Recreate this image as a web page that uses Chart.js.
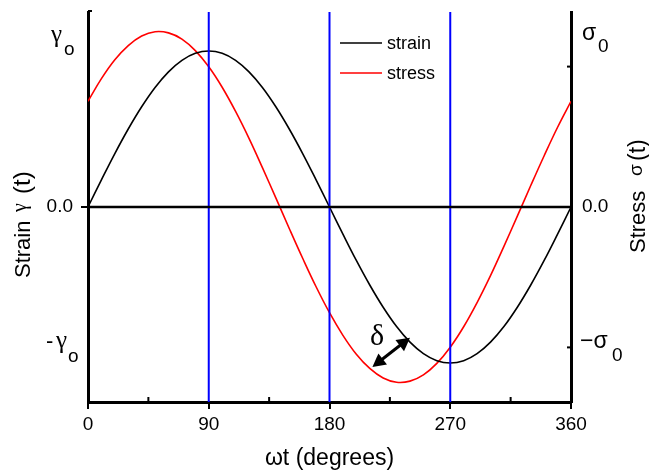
<!DOCTYPE html>
<html>
<head>
<meta charset="utf-8">
<script src="https://cdn.jsdelivr.net/npm/chart.js@4"></script>
<style>
  body { margin: 0; background: #fff; }
</style>
</head>
<body>
<canvas id="chart" width="649" height="473"></canvas>
<script>
// phase angle (degrees)
const angles = [0, 10, 20, 30, 40, 50, 60, 70, 80, 90, 100, 110, 120, 130, 140, 150, 160, 170, 180,
  190, 200, 210, 220, 230, 240, 250, 260, 270, 280, 290, 300, 310, 320, 330, 340, 350, 360];

const strain = [0, 0.139, 0.274, 0.400, 0.514, 0.613, 0.693, 0.752, 0.788, 0.800,
  0.788, 0.752, 0.693, 0.613, 0.514, 0.400, 0.274, 0.139, 0,
  -0.139, -0.274, -0.400, -0.514, -0.613, -0.693, -0.752, -0.788, -0.800,
  -0.788, -0.752, -0.693, -0.613, -0.514, -0.400, -0.274, -0.139, 0];

const stress = [0.542, 0.658, 0.755, 0.828, 0.877, 0.899, 0.893, 0.861, 0.802, 0.719,
  0.614, 0.490, 0.352, 0.202, 0.047, -0.110, -0.263, -0.409, -0.542,
  -0.658, -0.755, -0.828, -0.877, -0.899, -0.893, -0.861, -0.802, -0.719,
  -0.614, -0.490, -0.352, -0.202, -0.047, 0.110, 0.263, 0.409, 0.542];

const markers = [90, 180, 270];
const minorTicks = [45, 135, 225, 315];
const rightMinor = [0.72, -0.72];
const legendItems = ['strain', 'stress'];

const sans = "'Liberation Sans', Arial, sans-serif";
const greek = "'Liberation Serif', 'Times New Roman', serif";
const toXY = (xs, ys) => xs.map((x, i) => ({ x: x, y: ys[i] }));

const lineSets = [{
  data: [{ x: 0, y: 0 }, { x: 360, y: 0 }],
  borderColor: '#000', borderWidth: 2.5, pointRadius: 0
}];
markers.forEach(m => {
  lineSets.push({
    data: [{ x: m, y: -1 }, { x: m, y: 1 }],
    borderColor: '#0000ff', borderWidth: 2, pointRadius: 0
  });
});

function arrowHead(c, x, y, ang) {
  const len = 13, half = 7;
  c.beginPath();
  c.moveTo(x, y);
  c.lineTo(x - len * Math.cos(ang) + half * Math.sin(ang), y - len * Math.sin(ang) - half * Math.cos(ang));
  c.lineTo(x - len * Math.cos(ang) - half * Math.sin(ang), y - len * Math.sin(ang) + half * Math.cos(ang));
  c.closePath();
  c.fill();
}

// rotated axis title, reading upwards from (x, y)
function upText(c, x, y, parts) {
  c.save();
  c.translate(x, y);
  c.rotate(-Math.PI / 2);
  c.textAlign = 'left';
  c.textBaseline = 'alphabetic';
  parts.forEach(p => {
    c.font = p.font;
    c.fillText(p.text, p.off, -(p.raise || 0));
  });
  c.restore();
}

const overlay = {
  id: 'overlay',
  afterDraw(chart) {
    const c = chart.ctx;
    const xs = chart.scales.x, ys = chart.scales.y;
    const area = chart.chartArea;
    c.save();
    c.strokeStyle = '#000';
    c.fillStyle = '#000';

    // small inner ticks
    c.lineWidth = 2;
    minorTicks.forEach(v => {
      const px = xs.getPixelForValue(v);
      c.beginPath(); c.moveTo(px, area.bottom); c.lineTo(px, area.bottom - 5); c.stroke();
    });
    rightMinor.forEach(v => {
      const py = ys.getPixelForValue(v);
      c.beginPath(); c.moveTo(area.right, py); c.lineTo(area.right - 4, py); c.stroke();
    });
    c.beginPath(); c.moveTo(area.left, area.top - 1); c.lineTo(area.left + 4, area.top - 1); c.stroke();

    // phase lag arrow
    const x1 = xs.getPixelForValue(212), y1 = ys.getPixelForValue(-0.82);
    const x2 = xs.getPixelForValue(240), y2 = ys.getPixelForValue(-0.67);
    const ang = Math.atan2(y2 - y1, x2 - x1);
    c.lineWidth = 3;
    c.beginPath();
    c.moveTo(x1 + 10 * Math.cos(ang), y1 + 10 * Math.sin(ang));
    c.lineTo(x2 - 10 * Math.cos(ang), y2 - 10 * Math.sin(ang));
    c.stroke();
    arrowHead(c, x2, y2, ang);
    arrowHead(c, x1, y1, ang + Math.PI);
    c.font = '30px ' + greek;
    c.textAlign = 'center';
    c.textBaseline = 'alphabetic';
    c.fillText('δ', 377, 345);

    // legend
    c.textAlign = 'left';
    c.textBaseline = 'middle';
    c.font = '18px ' + sans;
    const colors = ['#000', '#ff0000'];
    legendItems.forEach((t, i) => {
      const y = 43 + i * 30;
      c.strokeStyle = colors[i];
      c.lineWidth = 1.5;
      c.beginPath(); c.moveTo(340, y); c.lineTo(382, y); c.stroke();
      c.fillStyle = '#000';
      c.fillText(t, 387, y + 1);
    });

    // amplitude labels
    c.textBaseline = 'alphabetic';
    c.fillStyle = '#000';
    c.font = '25px ' + greek;
    c.fillText('γ', 51, 42);
    c.fillText('γ', 56, 348);
    c.font = '22px ' + sans;
    c.fillText('-', 46, 348);
    c.font = '19px ' + sans;
    c.fillText('o', 64, 55);
    c.fillText('o', 68, 362);
    c.font = '23px ' + sans;
    c.fillText('σ', 582, 40);
    c.fillText('−σ', 580, 348);
    c.font = '19px ' + sans;
    c.fillText('0', 598, 52);
    c.fillText('0', 612, 361);

    // axis titles
    upText(c, 30, 278, [
      { text: 'Strain', off: 0, font: '22px ' + sans },
      { text: 'γ', off: 66, raise: 4, font: '20px ' + greek },
      { text: '(t)', off: 84, font: '24px ' + sans }
    ]);
    upText(c, 645, 253, [
      { text: 'Stress', off: 0, font: '22px ' + sans },
      { text: 'σ', off: 77, raise: 3, font: '19px ' + sans },
      { text: '(t)', off: 92, font: '23px ' + sans }
    ]);
    c.restore();
  }
};

new Chart(document.getElementById('chart'), {
  type: 'line',
  data: {
    datasets: lineSets.concat([{
      label: 'strain',
      data: toXY(angles, strain),
      borderColor: '#000', borderWidth: 1.6, pointRadius: 0, tension: 0.4
    }, {
      label: 'stress',
      data: toXY(angles, stress),
      borderColor: '#ff0000', borderWidth: 1.6, pointRadius: 0, tension: 0.4
    }])
  },
  options: {
    responsive: false,
    animation: false,
    devicePixelRatio: 1,
    layout: { padding: { top: 12, left: 0, right: 0, bottom: 0 } },
    plugins: { legend: { display: false }, tooltip: { enabled: false } },
    scales: {
      x: {
        type: 'linear', min: 0, max: 360,
        afterFit: s => { s.height = 71; s.paddingLeft = 0; s.paddingRight = 0; },
        ticks: { stepSize: 90, color: '#000', font: { family: sans, size: 19 }, padding: 4, maxRotation: 0 },
        grid: { drawOnChartArea: false, color: '#000', lineWidth: 2, tickLength: 7 },
        border: { color: '#000', width: 3 },
        title: { display: true, text: 'ωt (degrees)', color: '#000', font: { family: sans, size: 23 }, padding: { top: 0, bottom: 1 } }
      },
      y: {
        position: 'left', min: -1, max: 1,
        afterFit: s => { s.width = 88; s.paddingTop = 0; s.paddingBottom = 0; },
        afterBuildTicks: s => { s.ticks = [{ value: 0 }]; },
        ticks: { callback: () => '0.0', color: '#000', font: { family: sans, size: 19 }, padding: 8 },
        grid: { drawOnChartArea: false, color: '#000', lineWidth: 2, tickLength: 7 },
        border: { color: '#000', width: 3 },
        title: { display: false }
      },
      y2: {
        position: 'right', min: -1, max: 1,
        afterFit: s => { s.width = 78; s.paddingTop = 0; s.paddingBottom = 0; },
        afterBuildTicks: s => { s.ticks = [{ value: 0 }]; },
        ticks: { callback: () => '0.0', color: '#000', font: { family: sans, size: 19 }, padding: 11 },
        grid: { drawOnChartArea: false, drawTicks: false },
        border: { color: '#000', width: 3 },
        title: { display: false }
      }
    }
  },
  plugins: [overlay]
});
</script>
</body>
</html>
